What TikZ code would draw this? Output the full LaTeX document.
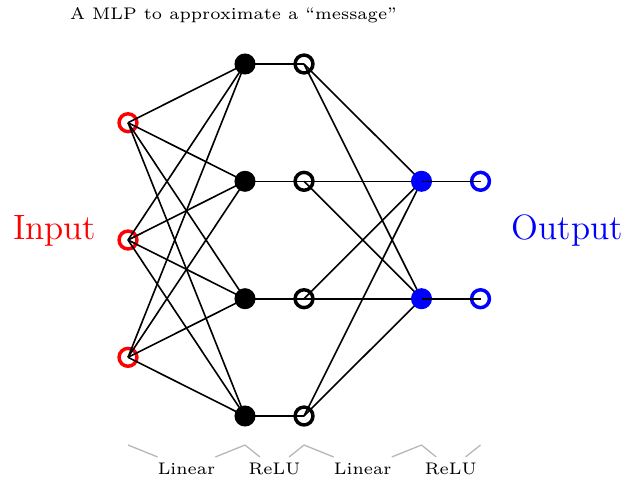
\documentclass[tikz,border=0pt]{standalone}
\begin{document}
\begin{tikzpicture}[x=0.375pt,y=-0.375pt,
  opennode/.style={circle,draw,line width=1.3pt,minimum size=6.7pt,inner sep=0pt},
  fillnode/.style={circle,fill,minimum size=7.9pt,inner sep=0pt},
  edge/.style={line width=0.6pt},
  brace/.style={draw=black!28,line width=0.5pt},
  lab/.style={font=\fontsize{6.3}{7.5}\selectfont,inner sep=2pt,anchor=base},
  biglab/.style={font=\fontsize{13.2}{16}\selectfont,anchor=base}]
\useasboundingbox (0,0) rectangle (629,481);

% title
\node[lab] (title) at (233.5,19.5) {A MLP to approximate a “message”};

% open nodes: inputs, ReLU outputs, final outputs
\node[opennode,draw=red] (in1) at (128,122.7) {};
\node[opennode,draw=red] (in2) at (128,240) {};
\node[opennode,draw=red] (in3) at (128,357.3) {};
\node[opennode] (r1) at (304,64) {};
\node[opennode] (r2) at (304,181.3) {};
\node[opennode] (r3) at (304,298.7) {};
\node[opennode] (r4) at (304,416) {};
\node[opennode,draw=blue] (y1) at (480.5,181.3) {};
\node[opennode,draw=blue] (y2) at (480.5,298.7) {};

% positions of filled nodes
\coordinate (hc1) at (245,64);
\coordinate (hc2) at (245,181.3);
\coordinate (hc3) at (245,298.7);
\coordinate (hc4) at (245,416);
\coordinate (oc1) at (421.5,181.3);
\coordinate (oc2) at (421.5,298.7);

% edges behind filled nodes
\foreach \i in {1,2,3}
  \foreach \j in {1,2,3,4}
    \draw[edge] (in\i.center) -- (hc\j);
\foreach \j in {1,2,3,4}
  \draw[edge] (hc\j) -- (r\j.center);
\foreach \j in {1,2,3,4}
  \foreach \k in {1,2}
    \draw[edge] (r\j.center) -- (oc\k);

% filled nodes
\node[fillnode] (h1) at (hc1) {};
\node[fillnode] (h2) at (hc2) {};
\node[fillnode] (h3) at (hc3) {};
\node[fillnode] (h4) at (hc4) {};
\node[fillnode,fill=blue] (o1) at (oc1) {};
\node[fillnode,fill=blue] (o2) at (oc2) {};

% edges on top
\draw[edge] (o1.center) -- (y1.center);
\draw[edge] (o2.center) -- (y2.center);

% side labels
\node[biglab,text=red] (inlab) at (54.7,239.5) {Input};
\node[biglab,text=blue] (outlab) at (567.5,239.5) {Output};

% bottom brackets
\coordinate (b1) at (128,445);
\coordinate (b2) at (245,445);
\coordinate (b3) at (304,445);
\coordinate (b4) at (421.5,445);
\coordinate (b5) at (480.5,445);
\node[lab] (l1) at (186.5,474.3) {Linear};
\node[lab] (l2) at (274.5,474.3) {ReLU};
\node[lab] (l3) at (362.7,474.3) {Linear};
\node[lab] (l4) at (450.7,474.3) {ReLU};
\draw[brace] (b1) -- (l1) -- (b2);
\draw[brace] (b2) -- (l2) -- (b3);
\draw[brace] (b3) -- (l3) -- (b4);
\draw[brace] (b4) -- (l4) -- (b5);
\end{tikzpicture}
\end{document}
